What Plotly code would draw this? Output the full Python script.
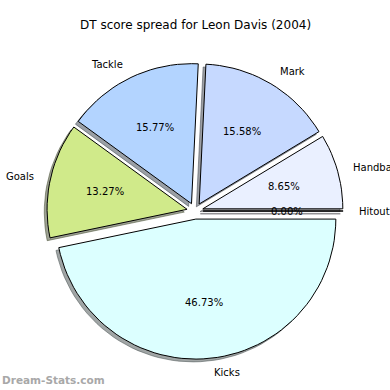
import math
import plotly.graph_objects as go

# ---- data ----
labels = ["Handball", "Mark", "Tackle", "Goals", "Kicks", "Hitout"]
values = [8.65, 15.58, 15.77, 13.27, 46.73, 0.0]
colors = ["#eaf0ff", "#c6d9ff", "#b3d4ff", "#d0ea8a", "#dcffff", "#e8e8ff"]
explode = [0.058, 0.058, 0.058, 0.058, 0.058, 0.058]
title_text = "DT score spread for Leon Davis (2004)"
watermark = "Dream-Stats.com"

# ---- geometry (pixel-like axis units) ----
W = H = 390
CX, CY, R = 195.0, 211.0, 140.0
SHADOW_DX, SHADOW_DY = -2.8, 2.8
FONT = "DejaVu Sans"


def hex_rgb(h):
    h = h.lstrip("#")
    return tuple(int(h[i:i + 2], 16) for i in (0, 2, 4))


def wedge(cx, cy, r, t1, t2, n=120):
    xs, ys = [cx], [cy]
    steps = max(2, int(n * (t2 - t1) / 360) + 2)
    for k in range(steps + 1):
        t = math.radians(t1 + (t2 - t1) * k / steps)
        xs.append(cx + r * math.cos(t))
        ys.append(cy - r * math.sin(t))
    xs.append(cx)
    ys.append(cy)
    return xs, ys


total = sum(values)
fig = go.Figure()
geo = []
theta = 0.0
for lab, v, c, e in zip(labels, values, colors, explode):
    span = 360.0 * v / total
    t1, t2 = theta, theta + span
    tm = math.radians((t1 + t2) / 2)
    ax = CX + e * R * math.cos(tm)
    ay = CY - e * R * math.sin(tm)
    geo.append((lab, v, c, t1, t2, tm, ax, ay))
    theta = t2

# shadows first (behind all wedges)
for lab, v, c, t1, t2, tm, ax, ay in geo:
    xs, ys = wedge(ax + SHADOW_DX, ay + SHADOW_DY, R, t1, t2)
    r, g, b = hex_rgb(c)
    sc = f"rgba({int(r*0.3)},{int(g*0.3)},{int(b*0.3)},0.5)"
    fig.add_trace(go.Scatter(x=xs, y=ys, mode="lines", fill="toself",
                             fillcolor=sc, line=dict(color=sc, width=1),
                             hoverinfo="skip", showlegend=False))

annotations = []
for lab, v, c, t1, t2, tm, ax, ay in geo:
    xs, ys = wedge(ax, ay, R, t1, t2)
    fig.add_trace(go.Scatter(x=xs, y=ys, mode="lines", fill="toself",
                             fillcolor=c, line=dict(color="black", width=1),
                             name=lab, hoverinfo="name", showlegend=False))
    # outer label
    lx = ax + 1.1 * R * math.cos(tm)
    ly = ay - 1.1 * R * math.sin(tm)
    annotations.append(dict(x=lx, y=ly, xref="x", yref="y", text=lab,
                            showarrow=False,
                            xanchor="left" if math.cos(tm) > 0 else "right",
                            yanchor="middle",
                            font=dict(family=FONT, size=10, color="black")))
    # percent label
    px = ax + 0.6 * R * math.cos(tm)
    py = ay - 0.6 * R * math.sin(tm)
    annotations.append(dict(x=px, y=py, xref="x", yref="y",
                            text="%.2f%%" % (100.0 * v / total),
                            showarrow=False, xanchor="center", yanchor="middle",
                            font=dict(family=FONT, size=10, color="black")))

annotations.append(dict(x=195, y=25, xref="x", yref="y", text=title_text,
                        showarrow=False, xanchor="center", yanchor="middle",
                        font=dict(family=FONT, size=12, color="black")))
annotations.append(dict(x=0, y=380, xref="x", yref="y", text="<b>" + watermark + "</b>",
                        showarrow=False, xanchor="left", yanchor="middle",
                        font=dict(family=FONT, size=10.5, color="#a8a8a8")))

fig.update_layout(
    width=W, height=H,
    margin=dict(l=0, r=0, t=0, b=0),
    paper_bgcolor="white", plot_bgcolor="white",
    xaxis=dict(range=[0, W], visible=False, fixedrange=True),
    yaxis=dict(range=[H, 0], visible=False, fixedrange=True),
    annotations=annotations,
)

fig.write_html("out.html", config={"displayModeBar": False},
               post_script="document.body.style.margin='0px';document.body.style.overflow='hidden';")
